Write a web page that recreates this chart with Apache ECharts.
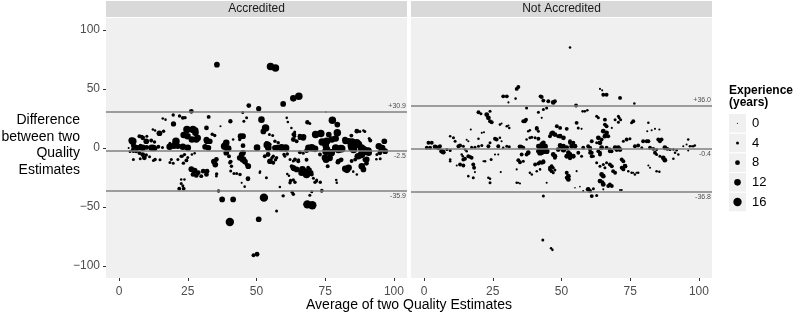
<!DOCTYPE html>
<html>
<head>
<meta charset="utf-8">
<script src="https://cdn.jsdelivr.net/npm/echarts@6/dist/echarts.min.js"></script>
<style>
  html, body { margin: 0; padding: 0; background: #fff; }
  #chart { width: 793px; height: 315px; }
</style>
</head>
<body>
<div id="chart"></div>
<script>
// [average, difference, experience (years)]
var accredited = [
  [35.6,70.5,10],[55.1,69,14],[56.9,67.7,14],[63.4,42,12],[65.4,43.7,14],[59.7,37.3,10],[47.2,35.9,8],[50.8,33.3,9],
  [26.3,31,8],[19.7,28,5],[22,27,5],[24,25.7,5],[32.6,26.3,6],[15.9,24.9,3],[16.9,24,3],[40.5,22.6,7],[51.8,24,12],
  [45,30,4],[46.4,25.5,4],[45.4,22.6,4],[36.9,18.4,2],[19.8,20.4,9],[24.7,15.6,14],[27.7,14.8,12],[23.5,11,12],
  [28.6,8.5,12],[32,5.7,10],[33.9,11.6,5],[34.8,10.5,5],[20.7,5.7,14],[20,2,12],[14.7,12.5,10],[16.2,14.2,5],
  [13.1,14.8,3],[14.2,12.5,3],[8.3,10,4],[10.1,10,4],[4.6,6.3,12],[5.2,2,8],[3.5,0,2],[7.8,2,6],[10.1,0.5,8],
  [12.5,0,12],[15.8,0.4,4],[18.5,4,4],[38.4,1.5,14],[39.7,-0.5,12],[39,4.5,12],[44.2,10,10],[50.2,0.3,12],
  [53.9,2.5,14],[57.5,0.3,10],[60.6,0,14],[54.7,11.5,4],[55.9,10.5,4],[53.3,17,14],[52.5,14,10],[61,25.5,3],
  [61.4,22,3],[62.7,17,3],[63.9,13.5,4],[63.9,10,4],[67.1,9.5,10],[65.7,8.5,6],[68.5,21.8,7],[69.4,20.8,4],
  [75.2,30.5,1],[77.6,23.5,14],[79.4,19.8,10],[71.5,11.4,14],[73.4,12.2,14],[76.3,11.4,10],[79.4,12.8,14],
  [84.5,10.5,6],[87.6,14,4],[89.4,14,4],[78.8,8,12],[84.8,5,14],[82.4,6,12],[91,8,4],[96.5,5.7,10],[73.9,5,14],
  [75.2,2,12],[78.8,0,14],[80.7,-0.5,14],[84.5,2,14],[88.2,0,14],[94.5,1.5,12],[95.7,0,12],
  [12.3,15.6,3],[11.7,6.4,6],[12.9,5,5],[7.4,10,6],[8.6,8.6,8],[9.9,5.7,10],[5,5.7,14],[5.6,1,10],[6.8,0.2,10],
  [8.6,0.2,12],[11.9,0.2,12],[13.1,-0.5,8],[14.3,1,6],[18.4,1,12],[21.4,1.6,10],[23.2,1,12],[25,0.2,12],
  [31.3,1,10],[32.5,0.2,10],[26.9,15.6,14],[27.8,12.8,12],[28.1,7.2,12],[24.9,10,12],[26.5,7.2,12],[31.8,17,8],
  [31.8,6.4,10],[23.2,25.5,6],
  [4,-3,4],[5.2,-3,4],[9.9,-6,5],[11.1,-7.5,4],[5.2,-9.7,4],[7.7,-9,4],[12.5,-10.5,4],[14.9,-10,4],[18.5,-12.3,4],
  [19.7,-12.8,4],[23.4,-12.8,5],[23,-7,4],[25,-8,4],[26.5,-5.5,3],[27.5,-4.5,3],[5,-1.4,6],[6.2,-2.8,6],
  [7.4,-4.2,6],[8.6,-5.6,8],[9.2,-8.3,8],[13.1,-9.7,5],[19,-9.7,4],[21.4,-9.7,4],[22.6,-7,5],[23.8,-5.6,5],
  [24.5,-10.5,6],[26.3,-17.9,10],[27.5,-19.2,10],[28.8,-20.9,8],[30.6,-19.6,8],[31.8,-22.4,8],[26.9,-22.4,8],
  [28.1,-23.2,8],[29.9,-23.8,6],[32,-19.6,8],[22.6,-26.6,3],[23.8,-26.6,3],[22.6,-30,4],[23.2,-32,4],
  [21.9,-34.4,6],[23.5,-34.4,6],[36.2,-36.4,5],[35.5,-22,5],[34.5,-11.5,10],[35,-14,10],[35.4,-9.7,8],
  [35.4,-23.8,3],[40,-7,6],[40.6,-11.5,6],[40.6,-19.5,4],[41.8,-21.5,4],[42.8,-21.5,4],[44,-22.5,5],
  [44.6,-5.5,10],[45.8,-11.5,10],[46.4,-14,6],[47,-15.4,10],[46.9,-26,8],[44.6,-29.5,2],[45.7,-32.7,3],
  [37.5,-43.5,10],[41.5,-43.5,10],[40.3,-62.6,16],[52.7,-42,16],[50.8,-60.3,10],[50.2,-89.9,8],[48.9,-90.7,6],
  [51.3,-20,3],[53.6,-25.2,4],[57.3,-53.3,4],[59.7,-40.5,5],[63,-37.5,5],[58.5,-33,3],[55.6,-8.5,5],
  [56.9,-10,5],[54.2,-5.5,8],[53,-7,6],[54.9,-11.2,10],[56.1,-12.5,6],[60,-5.5,5],[61.2,-5,5],[62.2,-9.7,4],
  [63.4,-11,4],[65.3,-10,4],[62.8,-15.5,6],[63.5,-18,6],[63.4,-16.7,10],[64.6,-18.1,10],[62.4,-27.5,5],
  [63.4,-27,5],[61.2,-22,3],[61.8,-23.5,3],[66.7,-18,12],[67.9,-20,12],[69.7,-21,10],[66.4,-20.9,12],
  [68.2,-22.4,14],[68.2,-10,6],[65.8,-3.7,6],[67,-4.5,4],[68.2,-2.3,8],[70.7,-25.5,4],[71.9,-27,4],
  [71.3,-29,5],[73.2,-29,5],[73.8,-36,5],[70.1,-37,4],[69.4,-40,4],[68.5,-47.7,16],[70.3,-48.5,16],
  [75.3,-3,14],[77.2,-4,14],[75.3,-10,12],[76.6,-8.5,12],[75.9,-15.5,6],[79,-27,3],[79.6,-12,8],[80.8,-10,8],
  [82.3,-17.5,12],[82.9,-18.5,12],[85.2,-20,3],[84.6,-11,6],[87,-7,12],[88.2,-5.5,14],[89.4,-3,14],
  [90.6,-2.5,14],[93.6,-9.5,3],[94.9,-4,8],[89.4,-10,8],[90,-13,8],[88.3,-15.4,12],[88.9,-18.1,10],
  [86.5,-22.4,3],[86.5,-6.9,8],[85.9,-9.7,6],[70.1,0.2,14],[71.3,-0.7,12],[75.5,-1.3,14],[79.8,-1.3,14],
  [81,-0.7,14],[84.7,0.2,14],[85.3,-1.3,14],[88.9,-1.3,14],[90.1,-2.7,14],[90.8,-4,12],[95.6,-0.7,12],
  [96.8,-2.7,10],[93.8,-5.5,4],[95,-9.1,4],[68.9,0.2,12],[73.1,-5.5,6],[74.9,-8.3,12],[69.4,-18.1,6],
  [70.1,-22.4,6],[68.8,-16.7,6],[39,-4,10],[45.1,-4,10],[45.1,2,8],[43.9,7.2,5],[41.5,7.2,3],[45.1,10,10],
  [31.8,7.2,10],[33,5.7,10],[56.7,0.2,10],[54.3,0.2,12],[59.1,0.2,14],[53.6,4.4,5],[54.9,3,5],[56.7,5.7,5],
  [57.9,4.4,5],[63.4,7.2,8],[64.6,5.7,6],[65.8,8.6,6],[63.6,11.4,8],[65.8,10,8],[67,8.6,10],[56.1,-7,5],
  [57.3,-8.3,5],[60.3,-7,4],[64,-9.7,6],[65.2,-11.2,6],[40.3,-12.5,5],[40.9,-15.4,5],[43.9,-8.3,10],
  [45.1,-9.7,12],[51.2,-20.9,3],[63.4,-39.2,5],[62.2,-29.4,5],[64,-28.9,5],[86.5,14.2,8],[88.9,14.8,3],
  [91.4,6.3,6],[75.5,5.7,14],[77.4,7.2,12],[82.2,7.2,10],[83.5,5.7,12],[86.5,4.4,14],[87.1,3,14],
  [79.8,-11.2,8],[83.5,-16.7,12],[90.1,-9.7,10],[71.9,-28,4],[73.7,-36.4,5],[79.2,-29.4,3]
];
var notAccredited = [
  [53.1,85.1,3],[34.3,51.6,6],[33.7,50,6],[28.8,43.7,6],[30.1,43.7,6],[33.3,41.8,3],[30.7,38.6,2],[42.4,43.7,6],
  [42.8,43.2,6],[43.4,40.1,6],[45.2,39.5,6],[47,38.6,8],[47.6,39.5,6],[37.3,33.9,4],[44.6,33.9,4],[43.4,32.5,4],
  [41.6,30.2,4],[55.3,35.9,6],[57.7,31,3],[59.4,31.9,3],[64,50,2],[64.8,48.8,2],[65.2,45.1,6],[66.4,45.1,6],
  [71.3,42.4,6],[76.5,37.6,3],[19.8,30.2,6],[20.7,28.9,4],[22.8,28.3,8],[23.4,25.5,8],[24,22.6,6],[24.6,21.8,6],
  [24,31,4],[27.6,19.8,3],[30.1,18.4,3],[31,17,3],[28.2,20.7,2],[30.7,19,2],[36.7,22.6,6],[36.1,22.6,6],
  [37.1,24,6],[41,17,6],[41.6,14.2,4],[39.2,9.1,4],[40.4,8.6,4],[41.6,7.8,6],[41,16.2,6],[37.9,14.2,3],
  [38.5,15,3],[42.8,25.5,2],[43.4,4.4,8],[42.8,1.5,8],[41.6,1.5,8],[44,0.2,8],[44.6,-2.7,10],[42.8,3,8],
  [44,1.5,10],[42.2,0.2,10],[43.4,-1.3,10],[41.6,-2.7,8],[42.8,-4,8],[46.8,12.8,8],[47.6,11.4,8],[48.8,10,6],
  [49.5,17,6],[48.3,18.4,6],[46.4,12.2,8],[45.8,10,6],[49.5,10,8],[50.7,8.6,8],[51.9,16.2,6],[55.5,21.3,6],
  [56.1,17,4],[57.3,16.2,2],[53.1,5.7,6],[54.3,4.4,6],[53.7,1.5,8],[53.1,4.4,6],[54.9,1.5,8],[58.5,31,3],
  [63.4,25.5,4],[62.8,26.8,4],[65.8,24,6],[65.8,19.8,6],[66.4,18.4,6],[65.2,14.2,8],[66.4,12.8,8],[67,10,6],
  [69.5,24,4],[70.7,26.8,4],[71,25.5,4],[71.5,24,4],[70.7,21.8,4],[76.1,22.6,6],[75.5,21.3,4],[68.3,17,2],
  [72.5,5.7,4],[73.7,7.2,6],[74.9,7.8,4],[69.5,0.2,8],[71.3,-1.3,8],[70.7,0.2,8],[70.1,-1.3,8],[67.6,-2.7,6],
  [68.2,-2.7,6],[79.7,5.7,6],[81,5.7,6],[81.6,5.7,6],[81.6,21.3,3],[81.2,14.2,2],[82.8,15,2],[84,16.2,2],
  [85.6,15.6,2],[85.8,5.7,6],[85.2,7.2,6],[86.4,7.2,6],[76.7,1.5,6],[77.9,2.1,6],[79.2,0.2,4],[82.2,0.2,6],
  [83.4,-0.7,6],[84.6,-1.3,4],[87.6,0.2,8],[88.5,-0.7,6],[89.5,-1.3,4],[90.7,-1.3,3],[91.9,-1.9,3],[87,-8.3,8],
  [87.6,-10.3,8],[84,-4,6],[84.6,-5.5,4],[85.8,-7,4],[91.3,-4,3],[92.5,-5.5,3],[90.7,-9.1,3],[94.3,1.5,2],
  [95.5,3,2],[96.1,7.2,3],[96.7,1.5,3],[97.9,1.5,3],[98.5,2.1,3],[96.1,-2.1,2],[97.3,1.5,2],
  [1.6,4.4,6],[2.8,4.4,6],[1,0.2,6],[2.2,0.2,6],[4,1,8],[5.2,0.2,8],[5.8,1.5,6],[6.4,-2.7,8],[7,-3.5,8],
  [8.3,-1.3,4],[9.5,-2.1,4],[9.5,10,3],[10.7,8.6,4],[11.3,5.7,4],[12.5,1.5,6],[13.1,2.1,6],[14.3,1.5,4],
  [14.9,-1.3,3],[15.5,-2.7,3],[15.5,7,2],[16.1,5.7,2],[17,15.6,2],[17.3,0.7,4],[18.5,0.7,4],[19.8,1.5,4],
  [21,2.1,4],[21,12.8,2],[21.8,13.3,2],[19.8,7.8,3],[23.4,1.5,6],[24,4.4,4],[25.8,7.8,6],[26.4,7.2,6],
  [28.2,5.7,2],[27.6,8.6,3],[28.8,0.2,3],[27,1.5,6],[30.1,1.5,4],[31,1,4],[35.5,1.5,4],[34.9,1,8],[36.1,0.2,6],
  [37.3,7.2,3],[38.5,8.6,4],[50.7,1.5,8],[51.9,0.2,8],[49.5,2.1,8],[50.1,0.2,8],[50.7,-1.3,10],[48.8,-1.3,8],
  [57.9,0.2,6],[60.4,0.2,6],[61,5.7,6],[62.8,4.4,4],[59.7,1.5,6],[60.4,-1.3,6],[61,-4,6],[61.6,-7,4],
  [63.4,8.6,8],[64,4.4,8],[64.6,0.2,8],[64,-4,6],[64.6,7.2,6],[65.8,10,8],[66.4,0.2,6],[67.6,-1.3,6],
  [25.8,-5.5,2],[27,-5.5,2],[27.9,-20.4,2],[9.5,-9.7,3],[13.7,-5.5,3],[14.1,-7,3],[14.3,-9.7,6],[14.9,-9.1,6],
  [16.1,-7,6],[16.7,-7.5,6],[17.3,-8.3,6],[13.1,-13.9,6],[14.3,-14.8,6],[17.9,-13.9,6],[18.2,-16.7,6],
  [11.9,-14.8,2],[21.6,-11.2,2],[24.4,-9.7,4],[22.2,-11.2,3],[16.1,-23.8,3],[17.9,-25.2,4],[23.4,-25.2,3],
  [24,-26,3],[24,-29.4,4],[18.5,-20.4,2],[9.5,-11.2,3],[35.5,-5.5,6],[37.3,-5.5,6],[37.9,-4,8],[34.3,-10.3,6],
  [36.1,-11.2,4],[34.9,-12,6],[33.7,-18.1,2],[38.5,-20.9,3],[39.2,-22.4,3],[40.4,-13.9,6],[41.6,-13.1,6],
  [42.8,-12.5,6],[43.4,-12,6],[42.2,-12,6],[43.4,-11.2,6],[42.2,-4,10],[43.4,-2.7,10],[47,-5.5,8],
  [47.6,-8.3,6],[47.6,-7,8],[46.4,-15.4,6],[47,-16.7,4],[45.8,-18.1,6],[47.6,-18.7,4],[45.8,-16.7,6],
  [46.4,-19.6,6],[47,-20.9,4],[41,-19.6,3],[42.2,-18.1,3],[51.9,-20.9,6],[52.5,-23.8,8],[51.9,-25.2,6],
  [52.5,-26.6,8],[55.5,-19.6,2],[44.6,-29.4,2],[34.3,-29.4,2],[34.9,-30,2],[33.7,-29.4,3],[43.4,-40.7,4],
  [43.2,-77.8,4],[46.2,-84.8,3],[46.7,-86.2,3],[52.5,-4,8],[53.1,-5.5,8],[54.3,-7,8],[51.9,-7,8],[53.1,-8.3,8],
  [56.1,-4,6],[57.3,-7,4],[54.9,-33.6,1],[56.7,-32.7,1],[59.7,-35,8],[60.4,-36.4,6],[61,-40.7,6],[62.8,-40.1,4],
  [61.6,-34.4,4],[57.9,-36.4,2],[65.2,-35,2],[71.3,-35.6,2],[71.9,-35.6,2],[64,-28,8],[65.2,-30.8,8],
  [64.9,-28.9,6],[67,-32.2,6],[67.6,-30.8,6],[68.3,-32.2,6],[64.6,-22.4,8],[65.2,-23.8,8],[62.8,-12.5,4],
  [64,-15.4,4],[65.2,-13.9,4],[66.4,-12.5,4],[65.8,-16.7,4],[63.4,-2.7,6],[64,-5.5,6],[60.4,-4,6],
  [61,-7,6],[67.6,-13.9,6],[68.3,-15.4,6],[68.8,-19.6,6],[69.5,-20.9,6],[71.9,-9.7,6],[72.5,-11.2,6],
  [73.1,-15.4,8],[71.9,-16.7,6],[72.5,-18.1,6],[74.3,-19.6,3],[75.5,-20.9,3],[76.7,-22.4,3],[77.9,-20.9,3],
  [81.6,-14.8,2],[82.2,-16.7,2],[84.6,-19.6,3],[85.6,-20.1,3],[76.1,-20.9,2],[77.3,-20.9,2]
];
// limits of agreement: upper, mean, lower
var accLimits = [30.9, -2.5, -35.9];
var notLimits = [36.0, -0.4, -36.8];
var panelNames = ["Accredited", "Not Accredited"];
var xTicks = [0, 25, 50, 75, 100];
var yTicks = [-100, -50, 0, 50, 100];
var legendYears = [0, 4, 8, 12, 16];

function dotSize(e) { return 1.2 + 0.45 * e; }
function fmtLimit(v) { return (v > 0 ? "+" : "") + v.toFixed(1); }
function fmtTick(v) { return v < 0 ? "\u2212" + Math.abs(v) : String(v); }

var panels = [
  { left: 106, data: accredited, limits: accLimits },
  { left: 411, data: notAccredited, limits: notLimits }
];
var W = 301, TOP = 18, H = 260;
var font = "Liberation Sans, Arial, sans-serif";

var option = {
  animation: false,
  grid: [], xAxis: [], yAxis: [], series: [], graphic: []
};

panels.forEach(function (p, i) {
  option.grid.push({ left: p.left, top: TOP, width: W, height: H, show: true,
    backgroundColor: "#f0f0f0", borderWidth: 0 });
  option.xAxis.push({
    type: "value", gridIndex: i, min: -4.75, max: 104.75, position: "bottom",
    axisLine: { show: false, onZero: false }, splitLine: { show: false },
    axisTick: { show: true, length: 3, customValues: xTicks, lineStyle: { color: "#333" } },
    axisLabel: { customValues: xTicks, color: "#4d4d4d", fontSize: 12, fontFamily: font, margin: 8 }
  });
  option.yAxis.push({
    type: "value", gridIndex: i, min: -110, max: 110, position: "left",
    axisLine: { show: false, onZero: false }, splitLine: { show: false },
    axisTick: { show: i === 0, length: 3, customValues: yTicks, lineStyle: { color: "#333" } },
    axisLabel: { show: i === 0, customValues: yTicks, color: "#4d4d4d", fontSize: 12,
      fontFamily: font, margin: 6, formatter: fmtTick }
  });
  option.series.push({
    type: "scatter", xAxisIndex: i, yAxisIndex: i, data: p.data,
    symbolSize: function (v) { return dotSize(v[2]); },
    itemStyle: { color: "#000", opacity: 1 },
    markLine: {
      silent: true, symbol: "none",
      lineStyle: { color: "#808080", width: 1.5, type: "solid" },
      data: p.limits.map(function (v, k) {
        return { yAxis: v, label: { show: true, formatter: fmtLimit(v),
          position: k === 0 ? "insideEndTop" : "insideEndBottom",
          distance: [1, 2], fontSize: 7, color: "#4d4d4d", fontFamily: font } };
      })
    }
  });
  option.graphic.push({ type: "rect", shape: { x: p.left, y: 1, width: W, height: 16 },
    style: { fill: "#d9d9d9" } });
  option.graphic.push({ type: "text", x: p.left + W / 2, y: 9,
    style: { text: panelNames[i], font: "12px " + font, fill: "#1a1a1a",
      textAlign: "center", textVerticalAlign: "middle" } });
});

option.graphic.push({ type: "text", x: 80, y: 145,
  style: { text: "Difference\nbetween two\nQuality\nEstimates", font: "14px " + font,
    lineHeight: 16.5, fill: "#000", textAlign: "right", textVerticalAlign: "middle" } });
option.graphic.push({ type: "text", x: 409, y: 305,
  style: { text: "Average of two Quality Estimates", font: "14px " + font, fill: "#000",
    textAlign: "center", textVerticalAlign: "middle" } });
option.graphic.push({ type: "text", x: 729, y: 84,
  style: { text: "Experience\n(years)", font: "bold 12px " + font, lineHeight: 12.5,
    fill: "#000", textAlign: "left", textVerticalAlign: "top" } });
legendYears.forEach(function (e, k) {
  var y = 114 + k * 19.7;
  option.graphic.push({ type: "rect", shape: { x: 729, y: y, width: 17, height: 18.5 },
    style: { fill: "#f0f0f0" } });
  option.graphic.push({ type: "circle", shape: { cx: 737.5, cy: y + 9.25, r: dotSize(e) / 2 },
    style: { fill: "#000" } });
  option.graphic.push({ type: "text", x: 752, y: y + 9.25,
    style: { text: String(e), font: "13px " + font, fill: "#000", textVerticalAlign: "middle" } });
});

var chart = echarts.init(document.getElementById("chart"));
chart.setOption(option);
</script>
</body>
</html>
